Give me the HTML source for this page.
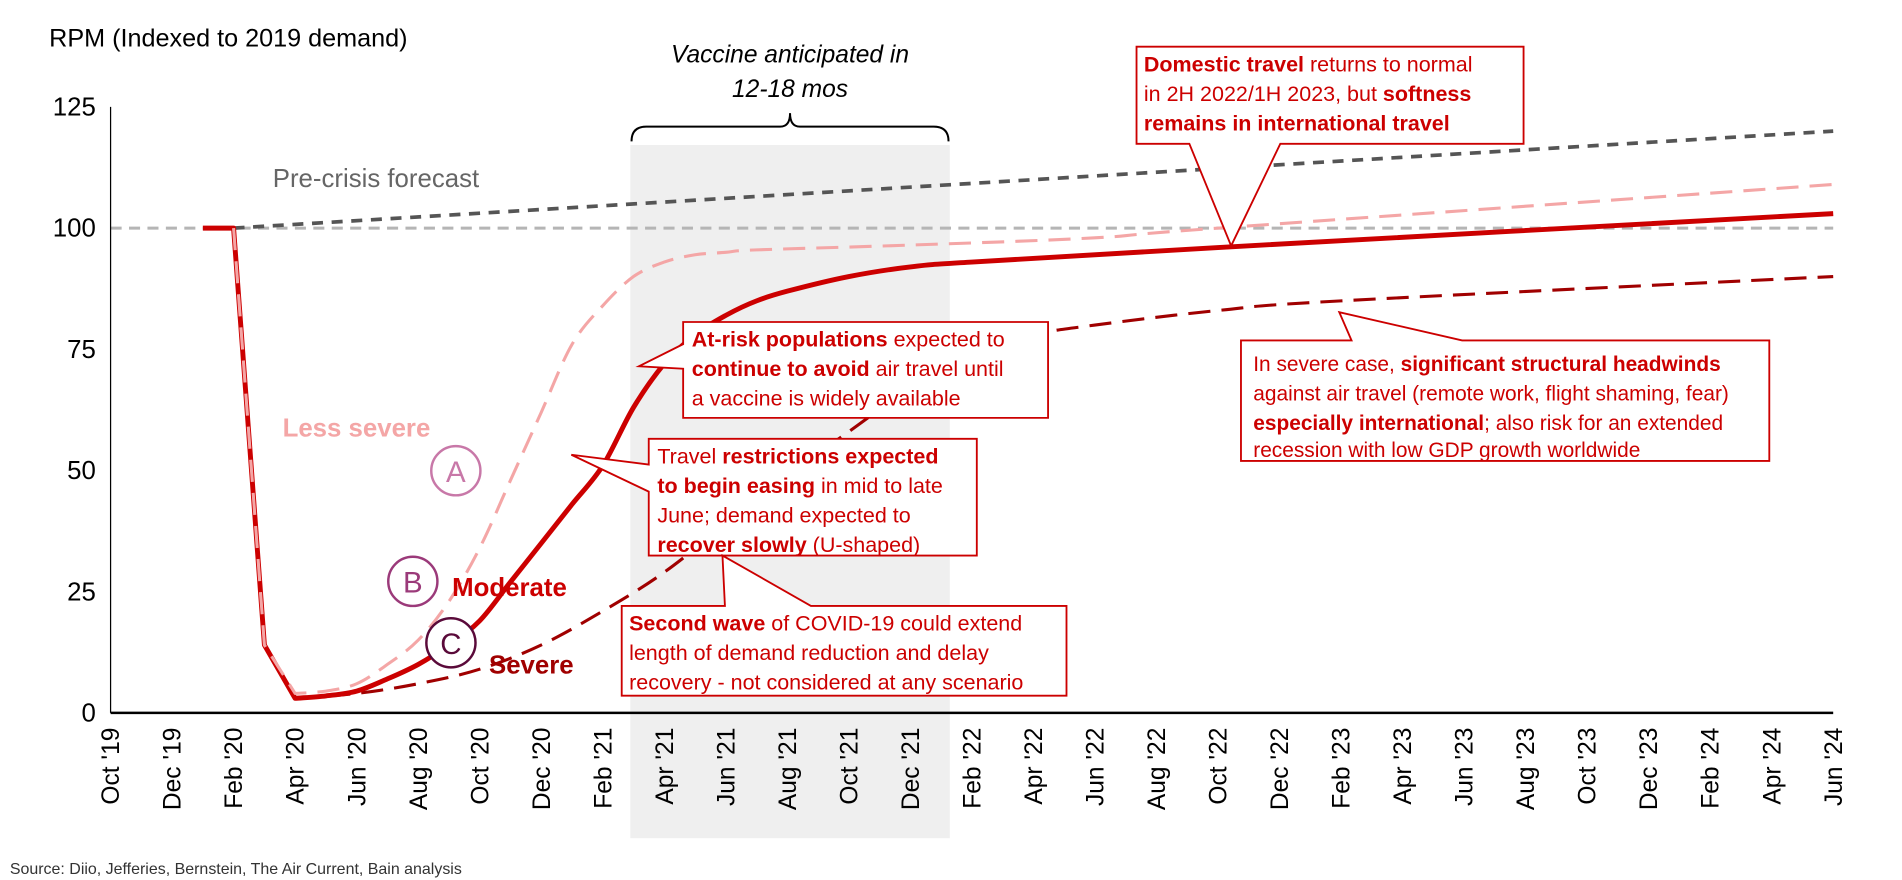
<!DOCTYPE html>
<html><head><meta charset="utf-8"><style>
html,body{margin:0;padding:0;background:#fff;}
svg{display:block;font-family:"Liberation Sans",Arial,sans-serif;}
.ct{font-size:17.5px;fill:#cc0000;}
.b{font-weight:bold;}
</style></head><body>
<svg id="chart" width="1902" height="880" viewBox="0 0 1548 716" preserveAspectRatio="none" xmlns="http://www.w3.org/2000/svg">
<rect x="0" y="0" width="1548" height="716" fill="#fff"/>
<rect x="513" y="118" width="260" height="564" fill="#efefef"/>
<path d="M514,115 Q514,103 526,103 L635,103 Q643,103 643,92 Q643,103 651,103 L760,103 Q772,103 772,115" fill="none" stroke="#000" stroke-width="1.6"/>
<text font-style="italic" font-size="20" text-anchor="middle" fill="#000"><tspan x="643" y="51">Vaccine anticipated in</tspan><tspan x="643" y="79">12-18 mos</tspan></text>
<text x="40" y="38" font-size="20.5" fill="#000">RPM (Indexed to 2019 demand)</text>
<g id="axes"></g>
<g id="series"></g>
<text x="222" y="152" font-size="21" fill="#666">Pre-crisis forecast</text>
<text x="230" y="355" font-size="21" font-weight="bold" fill="#f4a6a6">Less severe</text>
<text x="368" y="485" font-size="21" font-weight="bold" fill="#cc0000">Moderate</text>
<text x="398" y="548" font-size="21" font-weight="bold" fill="#a00000">Severe</text>
<g><circle cx="371" cy="383" r="20" fill="#fff" stroke="#c878a8" stroke-width="2"/><text x="371" y="392" font-size="24" text-anchor="middle" fill="#c878a8">A</text></g>
<g><circle cx="336" cy="473" r="20" fill="#fff" stroke="#9b3a7a" stroke-width="2"/><text x="336" y="482" font-size="24" text-anchor="middle" fill="#9b3a7a">B</text></g>
<g><circle cx="367" cy="523" r="20" fill="#fff" stroke="#5a0a3a" stroke-width="2"/><text x="367" y="532" font-size="24" text-anchor="middle" fill="#5a0a3a">C</text></g>

<g>
<path d="M556,262 H853 V340 H556 V300 L520,298 L556,280 Z" fill="#fff" stroke="#cc0000" stroke-width="1.5"/>
<text class="ct"><tspan x="563" y="282"><tspan class="b">At-risk populations</tspan> expected to</tspan><tspan x="563" y="306"><tspan class="b">continue to avoid</tspan> air travel until</tspan><tspan x="563" y="330">a vaccine is widely available</tspan></text></g>
<g>
<path d="M528,357 H795 V452 H528 V400 L465,370 L528,378 Z" fill="#fff" stroke="#cc0000" stroke-width="1.5"/>
<text class="ct"><tspan x="535" y="377">Travel <tspan class="b">restrictions expected</tspan></tspan><tspan x="535" y="401"><tspan class="b">to begin easing</tspan> in mid to late</tspan><tspan x="535" y="425">June; demand expected to</tspan><tspan x="535" y="449"><tspan class="b">recover slowly</tspan> (U-shaped)</tspan></text></g>
<g>
<path d="M506,493 H590 L588,452 L660,493 H868 V566 H506 Z" fill="#fff" stroke="#cc0000" stroke-width="1.5"/>
<text class="ct"><tspan x="512" y="513"><tspan class="b">Second wave</tspan> of COVID-19 could extend</tspan><tspan x="512" y="537">length of demand reduction and delay</tspan><tspan x="512" y="561">recovery - not considered at any scenario</tspan></text></g>
<g>
<path d="M925,38 H1240 V117 H1042 L1002,200 L968,117 H925 Z" fill="#fff" stroke="#cc0000" stroke-width="1.5"/>
<text class="ct"><tspan x="931" y="58"><tspan class="b">Domestic travel</tspan> returns to normal</tspan><tspan x="931" y="82">in 2H 2022/1H 2023, but <tspan class="b">softness</tspan></tspan><tspan x="931" y="106" class="b">remains in international travel</tspan></text></g>
<g>
<path d="M1010,277 H1100 L1090,254 L1190,277 H1440 V375 H1010 Z" fill="#fff" stroke="#cc0000" stroke-width="1.5"/>
<text class="ct" style="font-size:17px"><tspan x="1020" y="302">In severe case, <tspan class="b">significant structural headwinds</tspan></tspan><tspan x="1020" y="326">against air travel (remote work, flight shaming, fear)</tspan><tspan x="1020" y="350"><tspan class="b">especially international</tspan>; also risk for an extended</tspan><tspan x="1020" y="372">recession with low GDP growth worldwide</tspan></text></g>

<text x="8" y="711" font-size="13" fill="#333">Source: Diio, Jefferies, Bernstein, The Air Current, Bain analysis</text>
</svg>
<script>
// months since Oct 2019
const xLabels = ["Oct '19","Dec '19","Feb '20","Apr '20","Jun '20","Aug '20","Oct '20","Dec '20","Feb '21","Apr '21","Jun '21","Aug '21","Oct '21","Dec '21","Feb '22","Apr '22","Jun '22","Aug '22","Oct '22","Dec '22","Feb '23","Apr '23","Jun '23","Aug '23","Oct '23","Dec '23","Feb '24","Apr '24","Jun '24"];
const yTicks = [0,25,50,75,100,125];
const moderateMonths = [3,4,5,6,7,8,9,10,11,12,13,14,15,16,17,18,19,20,21,22,24,26,28,36,56];
const moderateValues = [100,100,14,3,3.5,4.5,7,10,14,19,27,35,43,51,63,72,78,82,85,87,90,92,93,96,103];
const lessMonths = [4,5,6,7,8,9,10,11,12,13,14,15,16,17,18,19,20,21,26,32,36,56];
const lessValues = [100,14,4,4.5,6,10,15,23,34,48,62,76,84,90,93,94.5,95,95.5,96.5,98,100,109];
const severeMonths = [6,8,10,12,14,16,18,20,22,24,26,28,30,32,36,40,56];
const severeValues = [3,4,6,9,14,21,29,39,49,58,67,74,78,80,83,85,90];
const forecastMonths = [4,56];
const forecastValues = [100,120];
const baselineValue = 100;

const NS="http://www.w3.org/2000/svg";
const X0=90,X1=1492,Y0=580,Y1=87,MMAX=56,VMAX=125;
const xs=m=>X0+(X1-X0)*m/MMAX;
const ys=v=>Y0-(Y0-Y1)*v/VMAX;
function mk(tag,attrs,parent){const e=document.createElementNS(NS,tag);for(const k in attrs)e.setAttribute(k,attrs[k]);parent.appendChild(e);return e;}
const axes=document.getElementById('axes'), series=document.getElementById('series');

const base=mk('line',{x1:X0,x2:X1,y1:ys(baselineValue),y2:ys(baselineValue),stroke:'#b5b5b5','stroke-width':2.5,'stroke-dasharray':'9,6'},axes);


const ya=mk('line',{x1:X0,x2:X0,y1:Y0,y2:Y1,stroke:'#000','stroke-width':1},axes);


const xa=mk('line',{x1:X0,x2:X1,y1:Y0,y2:Y0,stroke:'#000','stroke-width':2},axes);


yTicks.forEach(v=>{
  const t=mk('text',{x:X0-12,y:ys(v)+7,'font-size':21,'text-anchor':'end',fill:'#000'},axes);
  t.textContent=v;
  
  
});
xLabels.forEach((l,i)=>{
  const x=xs(i*2)+7, y=Y0+12;
  const t=mk('text',{x:x,y:y,'font-size':20,'text-anchor':'end',fill:'#000',transform:`rotate(-90 ${x} ${y})`},axes);
  t.textContent=l;
  
  
});
function line(ms,vs,attrs,name){
  const P=ms.map((m,i)=>[xs(m),ys(vs[i])]);
  let d='M'+P[0][0].toFixed(1)+','+P[0][1].toFixed(1);
  for(let i=1;i<P.length;i++){
    if(ms[i]<=6){d+=' L'+P[i][0].toFixed(1)+','+P[i][1].toFixed(1);continue;}
    const p0=(ms[i-1]<=6)?P[i-1]:P[i-2], p1=P[i-1], p2=P[i], p3=P[i+1]||P[i];
    const c1=[p1[0]+(p2[0]-p0[0])/6,p1[1]+(p2[1]-p0[1])/6];
    const c2=[p2[0]-(p3[0]-p1[0])/6,p2[1]-(p3[1]-p1[1])/6];
    d+=` C${c1[0].toFixed(1)},${c1[1].toFixed(1)} ${c2[0].toFixed(1)},${c2[1].toFixed(1)} ${p2[0].toFixed(1)},${p2[1].toFixed(1)}`;
  }
  const p=mk('path',Object.assign({d:d,fill:'none','stroke-linejoin':'round'},attrs),series);
  
  
}
line(forecastMonths,forecastValues,{stroke:'#555','stroke-width':3,'stroke-dasharray':'9,7'},'pre-crisis-forecast-line');
line(severeMonths,severeValues,{stroke:'#a00000','stroke-width':2.5,'stroke-dasharray':'18,9'},'severe-scenario-line');
line(moderateMonths,moderateValues,{stroke:'#cc0000','stroke-width':4},'moderate-scenario-line');
line(lessMonths,lessValues,{stroke:'#f4a6a6','stroke-width':2.5,'stroke-dasharray':'18,9'},'less-severe-scenario-line');
</script>
</body></html>
